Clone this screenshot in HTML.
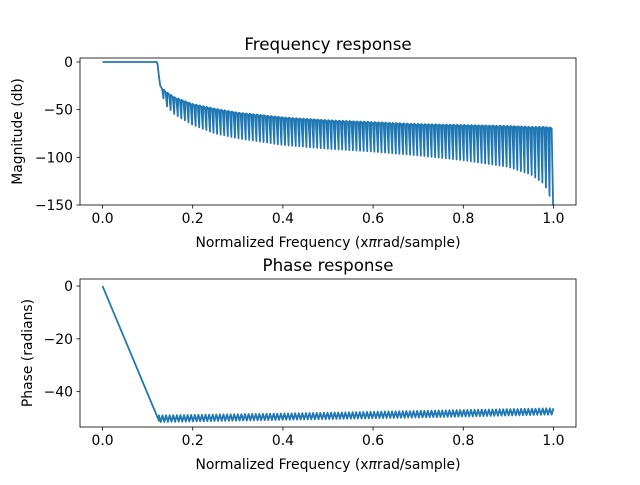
<!DOCTYPE html>
<html><head><meta charset="utf-8"><style>
body{margin:0;background:#fff}
svg text{font-family:"DejaVu Sans","Liberation Sans",sans-serif;fill:#000}
</style></head><body>
<svg id="fig" width="640" height="480" xmlns="http://www.w3.org/2000/svg">
<rect width="640" height="480" fill="#fff"/>
</svg>
<script>
// ---- data ----
const xTicks = [0.0, 0.2, 0.4, 0.6, 0.8, 1.0];
const xTickLabels = ["0.0", "0.2", "0.4", "0.6", "0.8", "1.0"];
const magTicks = [0, -50, -100, -150];
const phaseTicks = [0, -20, -40];
// passband magnitude (db)
const passFreq = [0.0, 0.05, 0.10, 0.115, 0.12, 0.122, 0.125, 0.128];
const passMag  = [0, 0, 0, 0, 0, -2, -15, -25];
// stopband envelope (db)
const envFreq  = [0.128, 0.14, 0.16, 0.2, 0.25, 0.3, 0.4, 0.5, 0.6, 0.7, 0.8, 0.9, 0.95, 0.98, 1.0];
const envUpper = [-25, -31, -37, -44, -49, -53, -58, -61, -63, -65, -66, -67, -68, -68, -69];
const envLower = [-28, -45, -55, -66, -75, -80, -87, -91, -94, -98, -103, -110, -118, -128, -150];
const lobeCount = 110;
// phase (radians)
const phaseLineFreq = [0.0, 0.125];
const phaseLineVal  = [0.0, -51];
const phEnvFreq  = [0.125, 0.4, 0.7, 1.0];
const phEnvUpper = [-49.0, -48.3, -47.3, -46.3];
const phEnvLower = [-51.5, -50.7, -49.8, -48.7];

// ---- helpers ----
const NS = "http://www.w3.org/2000/svg";
const svg = document.getElementById('fig');
function el(tag, attrs, parent){const e=document.createElementNS(NS,tag);for(const k in attrs)e.setAttribute(k,attrs[k]);(parent||svg).appendChild(e);return e;}
function interp(xs, ys, x){for(let i=0;i<xs.length-1;i++){if(x<=xs[i+1]){const t=(x-xs[i])/(xs[i+1]-xs[i]);return ys[i]+t*(ys[i+1]-ys[i]);}}return ys[ys.length-1];}

function makeAxes(L,T,R,B,ymin,ymax,yTicks,title,ylabel,name){
  const g=el('g',{});
  
  
  const xmin=-0.05,xmax=1.05;
  const sx=v=>L+(v-xmin)/(xmax-xmin)*(R-L);
  const sy=v=>T+(ymax-v)/(ymax-ymin)*(B-T);
  xTicks.forEach((v,i)=>{
    const x=sx(v);
    const t=el('line',{x1:x,x2:x,y1:B,y2:B+3.5,stroke:'#000','stroke-width':0.8},g);
    
    
    const tl=el('text',{x:x,y:B+18,'font-size':'13.9','text-anchor':'middle'},g);
    tl.textContent=xTickLabels[i];
    
    
  });
  yTicks.forEach(v=>{
    const y=sy(v);
    const t=el('line',{x1:L-3.5,x2:L,y1:y,y2:y,stroke:'#000','stroke-width':0.8},g);
    
    
    const tl=el('text',{x:L-7,y:y+5,'font-size':'13.9','text-anchor':'end'},g);
    tl.textContent=v===0?'0':'\u2212'+Math.abs(v);
    
    
  });
  const tt=el('text',{x:(L+R)/2,y:T-8,'font-size':'16.7','text-anchor':'middle'},g);
  tt.textContent=title;
  
  
  const xl=el('text',{x:(L+R)/2,y:B+42,'font-size':'13.9','text-anchor':'middle'},g);
  xl.innerHTML='Normalized Frequency (x<tspan font-style="italic">π</tspan>rad/sample)';
  
  
  const yl=el('text',{x:0,y:0,'font-size':'13.9','text-anchor':'middle',transform:`translate(${ylabel.x},${(T+B)/2}) rotate(-90)`},g);
  yl.textContent=ylabel.text;
  
  
  return {g,sx,sy,L,T,R,B};
}
function frame(ax){
  const r=el('rect',{x:ax.L,y:ax.T,width:ax.R-ax.L,height:ax.B-ax.T,fill:'none',stroke:'#000','stroke-width':0.8},ax.g);
  
  
}

// ---- magnitude ----
const ax1=makeAxes(80,58,576,205,-150,4.2,magTicks,'Frequency response',{text:'Magnitude (db)',x:22},'magnitude-axes');
let pts=[];
passFreq.forEach((f,i)=>pts.push([ax1.sx(f),ax1.sy(passMag[i])]));
const f0=envFreq[0],f1=envFreq[envFreq.length-1];
for(let k=0;k<lobeCount;k++){
  const fa=f0+(f1-f0)*k/lobeCount, fb=f0+(f1-f0)*(k+0.5)/lobeCount, fc=f0+(f1-f0)*(k+0.9)/lobeCount;
  pts.push([ax1.sx(fa),ax1.sy(interp(envFreq,envUpper,fa))]);
  pts.push([ax1.sx(fb),ax1.sy(interp(envFreq,envUpper,fb)-1)]);
  pts.push([ax1.sx(fc),ax1.sy(interp(envFreq,envLower,fc))]);
}
pts.push([ax1.sx(1.0),ax1.sy(envLower[envLower.length-1])]);
const m=el('polyline',{points:pts.map(p=>p.join(',')).join(' '),fill:'none',stroke:'#1f77b4','stroke-width':1.8,'stroke-linejoin':'round'},ax1.g);


frame(ax1);

// ---- phase ----
const ax2=makeAxes(80,279,576,427,-53.4,2.67,phaseTicks,'Phase response',{text:'Phase (radians)',x:32},'phase-axes');
pts=[];
phaseLineFreq.forEach((f,i)=>pts.push([ax2.sx(f),ax2.sy(phaseLineVal[i])]));
const p0=phEnvFreq[0],p1=phEnvFreq[phEnvFreq.length-1];
for(let k=0;k<=lobeCount;k++){
  const fa=p0+(p1-p0)*k/lobeCount, fb=p0+(p1-p0)*(k+0.5)/lobeCount;
  pts.push([ax2.sx(fa),ax2.sy(interp(phEnvFreq,phEnvUpper,fa))]);
  if(k<lobeCount)pts.push([ax2.sx(fb),ax2.sy(interp(phEnvFreq,phEnvLower,fb))]);
}
const ph=el('polyline',{points:pts.map(p=>p.join(',')).join(' '),fill:'none',stroke:'#1f77b4','stroke-width':1.8,'stroke-linejoin':'round'},ax2.g);


frame(ax2);
</script>
</body></html>
